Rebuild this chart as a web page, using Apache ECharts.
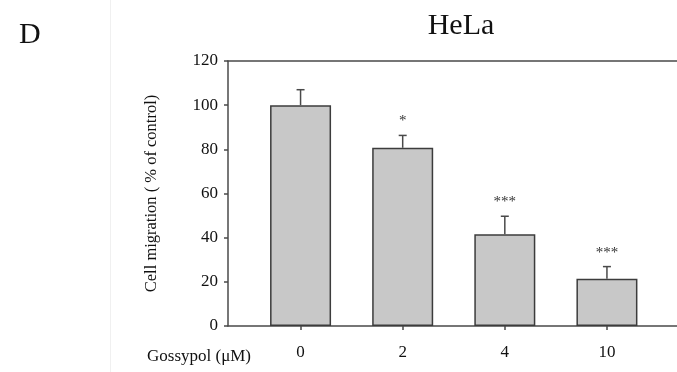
<!DOCTYPE html>
<html>
<head>
<meta charset="utf-8">
<script src="https://cdn.jsdelivr.net/npm/echarts@6/dist/echarts.min.js"></script>
<style>
  html, body { margin: 0; padding: 0; background: #fff; }
  #chart { width: 677px; height: 372px; }
</style>
</head>
<body>
<div id="chart"></div>
<script>
// data
const doses = ['0', '2', '4', '10'];
const migration = [100, 80.7, 41.5, 21.4];
const sem = [7, 5.6, 8.2, 5.5];
const signif = ['', '*', '***', '***'];
const yMin = 0, yMax = 120, yStep = 20;

const serif = '"Liberation Serif", "DejaVu Serif", serif';
const lineColor = '#4a4a4a';

var myChart = echarts.init(document.getElementById('chart'));

// error bar (upper half only) + significance stars
function renderErr(params, api) {
    var x = api.value(0);
    var v = api.value(1);
    var e = api.value(2);
    var base = api.coord([x, v]);
    var top = api.coord([x, v + e]);
    var cap = 4;
    var style = { stroke: lineColor, lineWidth: 1.5 };
    return {
        type: 'group',
        children: [
            { type: 'line', shape: { x1: base[0], y1: base[1], x2: top[0], y2: top[1] }, style: style },
            { type: 'line', shape: { x1: top[0] - cap, y1: top[1], x2: top[0] + cap, y2: top[1] }, style: style },
            {
                type: 'text',
                style: {
                    text: signif[params.dataIndex],
                    x: top[0], y: top[1] - 14,
                    align: 'center', verticalAlign: 'middle',
                    font: '15px ' + serif, fill: '#333'
                }
            }
        ]
    };
}

myChart.setOption({
    animation: false,
    // faint panel divider
    graphic: [
        { type: 'line', shape: { x1: 110.5, y1: 0, x2: 110.5, y2: 372 }, style: { stroke: '#f0f0f0', lineWidth: 1 }, silent: true }
    ],
    title: [
        { text: 'D', left: 14, top: 15, textStyle: { fontFamily: serif, fontSize: 30, fontWeight: 'normal', color: '#111' } },
        { text: 'HeLa', left: 456, top: 6, textAlign: 'center', textStyle: { fontFamily: serif, fontSize: 30, fontWeight: 'normal', color: '#111' } },
        { text: 'Gossypol (\u03bcM)', left: 142, top: 343, textStyle: { fontFamily: serif, fontSize: 17, fontWeight: 'normal', color: '#111' } }
    ],
    grid: [
        // frame grid (axis lines)
        { left: 228, right: 0, top: 61, bottom: 46 },
        // bars grid
        { left: 249.5, right: 19, top: 61, bottom: 46 }
    ],
    xAxis: [
        { type: 'value', gridIndex: 0, position: 'bottom', min: 0, max: 1,
          axisLine: { show: true, lineStyle: { color: lineColor, width: 1.5 } },
          axisTick: { show: false }, axisLabel: { show: false }, splitLine: { show: false } },
        { type: 'category', gridIndex: 1, data: doses, boundaryGap: true,
          axisLine: { show: false },
          axisTick: { show: true, alignWithLabel: true, length: 4, lineStyle: { color: lineColor, width: 1.5 } },
          axisLabel: { margin: 18, fontFamily: serif, fontSize: 17, color: '#111' },
          splitLine: { show: false } },
        // top border
        { type: 'value', gridIndex: 0, position: 'top', min: 0, max: 1,
          axisLine: { show: true, lineStyle: { color: lineColor, width: 1.5 } },
          axisTick: { show: false }, axisLabel: { show: false }, splitLine: { show: false } }
    ],
    yAxis: [
        { type: 'value', gridIndex: 0, min: yMin, max: yMax, interval: yStep,
          name: 'Cell migration ( % of control)', nameLocation: 'middle', nameGap: 68, nameRotate: 90,
          nameTextStyle: { fontFamily: serif, fontSize: 16.5, color: '#111' },
          axisLine: { show: true, lineStyle: { color: lineColor, width: 1.5 } },
          axisTick: { show: true, length: 4, lineStyle: { color: lineColor, width: 1.5 } },
          axisLabel: { margin: 10, fontFamily: serif, fontSize: 17, color: '#111' },
          splitLine: { show: false } },
        { type: 'value', gridIndex: 1, min: yMin, max: yMax, interval: yStep, show: false }
    ],
    series: [
        {
            type: 'bar', xAxisIndex: 1, yAxisIndex: 1,
            data: migration, barWidth: 61,
            itemStyle: { color: '#c8c8c8', borderColor: '#3c3c3c', borderWidth: 1.5 }
        },
        {
            type: 'custom', xAxisIndex: 1, yAxisIndex: 1,
            data: migration.map(function (v, i) { return [i, v, sem[i]]; }),
            renderItem: renderErr, z: 5
        }
    ]
});
</script>
</body>
</html>
